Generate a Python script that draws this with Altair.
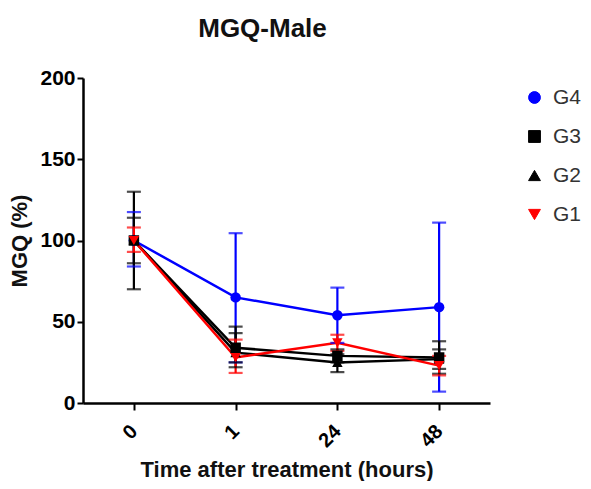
import altair as alt
import pandas as pd

times = ["0", "1", "24", "48"]
groups = ["G4", "G3", "G2", "G1"]
colors = ["#0000ff", "#000000", "#000000", "#ff0000"]
shapes = ["circle", "square", "triangle-up", "triangle-down"]

mean = {
    "G4": [100, 65, 54, 59],
    "G3": [100, 34, 29, 28],
    "G2": [100, 31, 25, 27],
    "G1": [100, 28, 37, 23],
}
lower = {
    "G4": [84, 25, 37, 7],
    "G3": [70, 22, 25, 18],
    "G2": [86, 25, 19, 21],
    "G1": [93, 18.5, 32, 17],
}
upper = {
    "G4": [117.5, 104.5, 71, 111],
    "G3": [130, 47, 33, 38],
    "G2": [114, 43, 30, 33],
    "G1": [108, 39, 42, 29],
}

rows = []
for g in groups:
    for i, t in enumerate(times):
        rows.append({"time": t, "group": g, "mean": mean[g][i],
                     "lo": lower[g][i], "hi": upper[g][i]})
df = pd.DataFrame(rows)

FONT = "Liberation Sans"

x = alt.X("time:O", sort=times,
          scale=alt.Scale(type="point", padding=0.5),
          axis=alt.Axis(title="Time after treatment (hours)", labelAngle=-45,
                        labelAlign="right", labelBaseline="middle",
                        labelFontSize=20, labelFontWeight="bold",
                        titleFontSize=22, titleFontWeight="bold",
                        titlePadding=9, labelPadding=18,
                        tickSize=7, tickWidth=2, domainWidth=2.5,
                        domainColor="#000", tickColor="#000",
                        labelColor="#000", titleColor="#111", grid=False))
y_axis = alt.Axis(title="MGQ (%)", values=[0, 50, 100, 150, 200],
                  labelFontSize=21, labelFontWeight="bold",
                  titleFontSize=22, titleFontWeight="bold",
                  tickSize=6, tickWidth=2, domainWidth=2.5,
                  domainColor="#000", tickColor="#000",
                  labelColor="#000", titleColor="#111", grid=False,
                  titlePadding=8, labelPadding=2)
yscale = alt.Scale(domain=[0, 200], nice=False)
cscale = alt.Scale(domain=groups, range=colors)

color = alt.Color("group:N", sort=groups, scale=cscale,
                  legend=alt.Legend(title=None, orient="none", legendX=441,
                                    legendY=9, padding=0, labelFontSize=21,
                                    labelColor="#333", labelFont=FONT,
                                    symbolSize=140, rowPadding=17,
                                    labelOffset=8, symbolStrokeWidth=1,
                                    symbolOpacity=1, labelLimit=60))
shape = alt.Shape("group:N", sort=groups,
                  scale=alt.Scale(domain=groups, range=shapes))
c_plain = alt.Color("group:N", sort=groups, scale=cscale)

base = alt.Chart(df)

lines = base.mark_line(strokeWidth=2.5).encode(
    x=x, y=alt.Y("mean:Q", scale=yscale, axis=y_axis),
    color=c_plain, detail="group:N")

err = base.mark_rule(strokeWidth=2.2).encode(
    x=x, y=alt.Y("lo:Q", scale=yscale), y2="hi:Q", color=c_plain)
cap_lo = base.mark_tick(size=14, thickness=2.2).encode(
    x=x, y=alt.Y("lo:Q", scale=yscale), color=c_plain)
cap_hi = base.mark_tick(size=14, thickness=2.2).encode(
    x=x, y=alt.Y("hi:Q", scale=yscale), color=c_plain)

points = base.mark_point(filled=True, size=110, opacity=1).encode(
    x=x, y=alt.Y("mean:Q", scale=yscale), color=color, shape=shape)

chart = alt.layer(lines, err, cap_lo, cap_hi, points).properties(
    width=407, height=325,
    title=alt.Title("MGQ-Male", fontSize=26, fontWeight="bold", font=FONT,
                    color="#111", anchor="middle", frame="group", dx=-24,
                    offset=25),
    autosize=alt.AutoSizeParams(type="none"),
    padding={"left": 75, "top": 70, "right": 93, "bottom": 78},
).configure(font=FONT).configure_view(stroke=None).configure_axis(
    grid=False).configure_legend(symbolOpacity=1)

chart.save("out.html", embed_options={"renderer": "svg", "actions": False})
